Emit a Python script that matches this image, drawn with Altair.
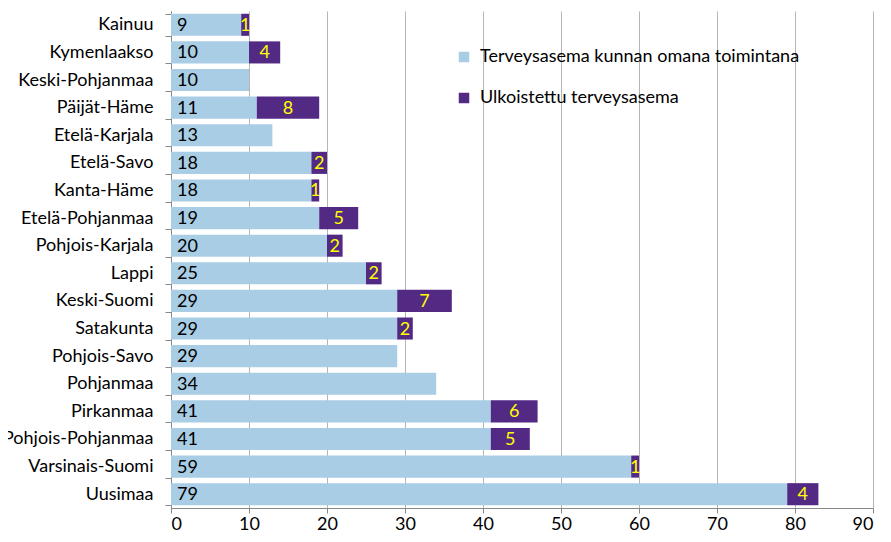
import altair as alt
import pandas as pd

regions = ["Kainuu", "Kymenlaakso", "Keski-Pohjanmaa", "Päijät-Häme", "Etelä-Karjala",
           "Etelä-Savo", "Kanta-Häme", "Etelä-Pohjanmaa", "Pohjois-Karjala", "Lappi",
           "Keski-Suomi", "Satakunta", "Pohjois-Savo", "Pohjanmaa", "Pirkanmaa",
           "Pohjois-Pohjanmaa", "Varsinais-Suomi", "Uusimaa"]
own = [9, 10, 10, 11, 13, 18, 18, 19, 20, 25, 29, 29, 29, 34, 41, 41, 59, 79]
outsourced = [1, 4, 0, 8, 0, 2, 1, 5, 2, 2, 7, 2, 0, 0, 6, 5, 1, 4]
series = ["Terveysasema kunnan omana toimintana", "Ulkoistettu terveysasema"]
colors = ["#A8CDE4", "#522A84"]
x_ticks = list(range(0, 100, 10))

rows = []
for r, a, b in zip(regions, own, outsourced):
    rows.append({"region": r, "series": series[0], "value": a, "ord": 0})
    rows.append({"region": r, "series": series[1], "value": b, "ord": 1})
long_df = pd.DataFrame(rows)
wide_df = pd.DataFrame({"region": regions, "own": own, "out": outsourced})

FONT = "Lato"
FS = 18
y_enc = alt.Y("region:N", sort=regions, title=None,
              scale=alt.Scale(paddingInner=0.2, paddingOuter=0.1))

bars = alt.Chart(long_df).mark_bar().encode(
    y=y_enc,
    x=alt.X("value:Q", stack="zero", title=None,
            scale=alt.Scale(domain=[0, 90], nice=False),
            axis=alt.Axis(values=x_ticks, grid=True, gridColor="#B5B5B5",
                          domainColor="#888888", tickColor="#888888", tickSize=5,
                          labelFontSize=FS, labelColor="#000000", labelFont=FONT,
                          labelPadding=2)),
    color=alt.Color("series:N", sort=series,
                    scale=alt.Scale(domain=series, range=colors),
                    legend=alt.Legend(title=None, orient="none", legendX=284, legendY=37,
                                      symbolType="square", symbolSize=110,
                                      symbolStrokeWidth=0, labelFontSize=FS,
                                      labelFont=FONT, labelColor="#000000",
                                      rowPadding=23, labelLimit=450, labelOffset=7)),
    order=alt.Order("ord:Q"),
)

own_labels = alt.Chart(wide_df).mark_text(
    align="left", baseline="middle", dx=6, dy=1, fontSize=FS, font=FONT, color="#000000"
).encode(y=y_enc, x=alt.datum(0), text="own:Q")

out_labels = alt.Chart(wide_df).transform_filter(
    "datum.out > 0"
).transform_calculate(
    mid="datum.own + datum.out / 2"
).mark_text(
    align="center", baseline="middle", dy=1, fontSize=FS, font=FONT, color="#FFFF00"
).encode(y=y_enc, x="mid:Q", text="out:Q")

chart = alt.layer(bars, own_labels, out_labels).properties(
    width=702, height=497,
    autosize=alt.AutoSizeParams(type="none"),
    padding={"left": 163, "top": 3, "right": 10, "bottom": 26},
).configure_axisY(
    labelFontSize=FS, labelFont=FONT, labelColor="#000000", tickBand="extent",
    domainColor="#888888", tickColor="#888888", tickSize=6, labelPadding=12, grid=False,
    labelLimit=300
).configure_view(stroke=None)

chart.save("out.html", embed_options={"renderer": "svg", "actions": False})
